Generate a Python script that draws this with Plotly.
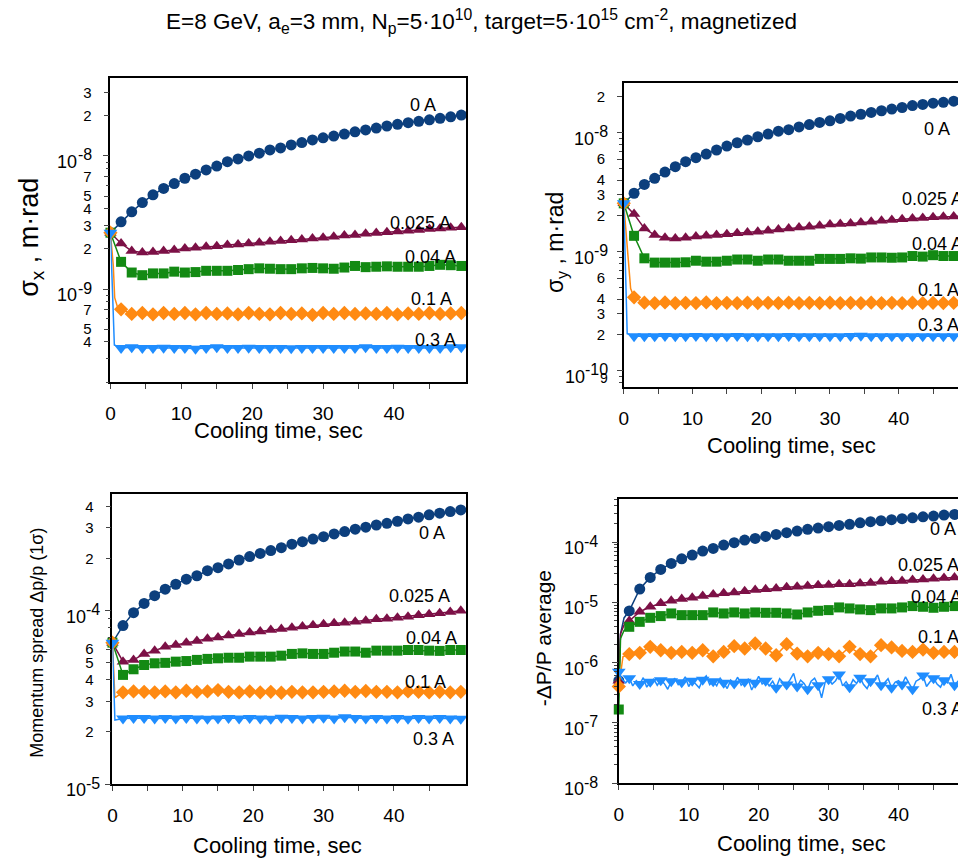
import plotly.graph_objects as go

W, H = 958, 859

# ---------------- data ----------------
T = [0, 1.5, 3, 4.5, 6, 7.5, 9, 10.5, 12, 13.5, 15, 16.5, 18, 19.5, 21, 22.5, 24,
     25.5, 27, 28.5, 30, 31.5, 33, 34.5, 36, 37.5, 39, 40.5, 42, 43.5, 45, 46.5, 48, 49.5]

CURRENTS = ['0 A', '0.025 A', '0.04 A', '0.1 A', '0.3 A']
COLORS = ['#0c3f7d', '#7c1046', '#138a13', '#ff8a12', '#1f8dff']
SYMBOLS = ['circle', 'triangle-up', 'square', 'diamond', 'triangle-down']
MSIZES = [11, 11, 10, 11, 12]

# Panel 1: sigma_x
sx_0A = [2.65e-9, 3.2e-9, 3.8e-9, 4.46e-9, 5.1e-9, 5.7e-9, 6.2e-9, 6.8e-9, 7.3e-9, 7.85e-9, 8.4e-9,
         9.06e-9, 9.5e-9, 1.0e-8, 1.05e-8, 1.11e-8, 1.15e-8, 1.21e-8, 1.26e-8, 1.32e-8, 1.37e-8,
         1.41e-8, 1.46e-8, 1.52e-8, 1.57e-8, 1.62e-8, 1.68e-8, 1.73e-8, 1.78e-8, 1.82e-8, 1.87e-8,
         1.92e-8, 1.97e-8, 2.03e-8]
sx_025A = [2.65e-9, 2.2e-9, 1.93e-9, 1.88e-9, 1.9e-9, 1.93e-9, 1.96e-9, 2.02e-9, 2.04e-9, 2.08e-9,
           2.1e-9, 2.14e-9, 2.16e-9, 2.2e-9, 2.23e-9, 2.27e-9, 2.3e-9, 2.33e-9, 2.36e-9, 2.4e-9,
           2.43e-9, 2.47e-9, 2.52e-9, 2.55e-9, 2.6e-9, 2.64e-9, 2.67e-9, 2.7e-9, 2.74e-9, 2.78e-9,
           2.82e-9, 2.85e-9, 2.89e-9, 2.91e-9]
sx_04A = [2.65e-9, 1.6e-9, 1.33e-9, 1.27e-9, 1.31e-9, 1.31e-9, 1.35e-9, 1.33e-9, 1.34e-9, 1.37e-9,
          1.37e-9, 1.37e-9, 1.39e-9, 1.41e-9, 1.43e-9, 1.42e-9, 1.41e-9, 1.41e-9, 1.43e-9, 1.44e-9,
          1.43e-9, 1.42e-9, 1.45e-9, 1.49e-9, 1.46e-9, 1.47e-9, 1.48e-9, 1.47e-9, 1.47e-9, 1.47e-9,
          1.49e-9, 1.52e-9, 1.51e-9, 1.49e-9]
sx_01A = [2.65e-9, 7.04e-10, 6.5e-10, 6.6e-10, 6.45e-10, 6.6e-10, 6.5e-10, 6.6e-10, 6.45e-10, 6.6e-10,
          6.5e-10, 6.55e-10, 6.45e-10, 6.6e-10, 6.5e-10, 6.45e-10, 6.6e-10, 6.5e-10, 6.55e-10, 6.4e-10,
          6.6e-10, 6.5e-10, 6.6e-10, 6.5e-10, 6.55e-10, 6.5e-10, 6.6e-10, 6.45e-10, 6.55e-10, 6.5e-10,
          6.6e-10, 6.5e-10, 6.55e-10, 6.6e-10]
sx_03A = [2.65e-9, 3.6e-10, 3.65e-10, 3.6e-10, 3.6e-10, 3.62e-10, 3.6e-10, 3.6e-10, 3.55e-10, 3.6e-10,
          3.65e-10, 3.6e-10, 3.6e-10, 3.62e-10, 3.6e-10, 3.6e-10, 3.6e-10, 3.58e-10, 3.6e-10, 3.6e-10,
          3.6e-10, 3.6e-10, 3.6e-10, 3.6e-10, 3.65e-10, 3.6e-10, 3.6e-10, 3.62e-10, 3.6e-10, 3.6e-10,
          3.6e-10, 3.6e-10, 3.65e-10, 3.65e-10]
sx_early_t = {'0.1 A': [0.4, 0.6, 1.0], '0.3 A': [0.55]}
sx_early_v = {'0.1 A': [1.5e-9, 8.6e-10, 7.3e-10], '0.3 A': [3.8e-10]}

# Panel 2: sigma_y
sy_0A = [2.55e-9, 3.1e-9, 3.68e-9, 4.14e-9, 4.67e-9, 5.18e-9, 5.71e-9, 6.17e-9, 6.62e-9, 7.16e-9,
         7.73e-9, 8.24e-9, 8.69e-9, 9.25e-9, 9.75e-9, 1.03e-8, 1.06e-8, 1.12e-8, 1.17e-8, 1.22e-8,
         1.26e-8, 1.32e-8, 1.38e-8, 1.43e-8, 1.48e-8, 1.53e-8, 1.58e-8, 1.63e-8, 1.69e-8, 1.73e-8,
         1.77e-8, 1.8e-8, 1.84e-8, 1.88e-8]
sy_025A = [2.55e-9, 2.07e-9, 1.57e-9, 1.38e-9, 1.31e-9, 1.29e-9, 1.31e-9, 1.34e-9, 1.36e-9, 1.38e-9,
           1.4e-9, 1.43e-9, 1.45e-9, 1.47e-9, 1.5e-9, 1.54e-9, 1.57e-9, 1.6e-9, 1.62e-9, 1.65e-9,
           1.69e-9, 1.71e-9, 1.73e-9, 1.76e-9, 1.79e-9, 1.82e-9, 1.85e-9, 1.87e-9, 1.9e-9, 1.92e-9,
           1.95e-9, 1.97e-9, 1.98e-9, 2.0e-9]
sy_04A = [2.55e-9, 1.36e-9, 8.8e-10, 8.1e-10, 8.1e-10, 8.1e-10, 8.15e-10, 8.4e-10, 8.25e-10, 8.25e-10,
          8.4e-10, 8.6e-10, 8.6e-10, 8.4e-10, 8.6e-10, 8.6e-10, 8.4e-10, 8.4e-10, 8.4e-10, 8.7e-10,
          8.7e-10, 8.7e-10, 8.8e-10, 8.75e-10, 8.95e-10, 8.95e-10, 8.9e-10, 8.95e-10, 9.2e-10, 9.1e-10,
          9.35e-10, 9.2e-10, 9.2e-10, 9.2e-10]
sy_01A = [2.55e-9, 4.14e-10, 3.73e-10, 3.7e-10, 3.75e-10, 3.7e-10, 3.72e-10, 3.7e-10, 3.75e-10, 3.7e-10,
          3.72e-10, 3.7e-10, 3.73e-10, 3.7e-10, 3.72e-10, 3.7e-10, 3.73e-10, 3.7e-10, 3.72e-10, 3.7e-10,
          3.73e-10, 3.7e-10, 3.72e-10, 3.7e-10, 3.73e-10, 3.7e-10, 3.72e-10, 3.7e-10, 3.73e-10, 3.7e-10,
          3.72e-10, 3.7e-10, 3.72e-10, 3.7e-10]
sy_03A = [2.55e-9, 1.95e-10, 1.95e-10, 1.95e-10, 1.96e-10, 1.95e-10, 1.95e-10, 1.96e-10, 1.95e-10, 1.95e-10,
          1.95e-10, 1.96e-10, 1.95e-10, 1.95e-10, 1.95e-10, 1.95e-10, 1.96e-10, 1.95e-10, 1.95e-10, 1.95e-10,
          1.95e-10, 1.95e-10, 1.96e-10, 1.97e-10, 1.95e-10, 1.95e-10, 1.95e-10, 1.95e-10, 1.95e-10, 1.95e-10,
          1.95e-10, 1.95e-10, 1.95e-10, 1.95e-10]
sy_early_t = {'0.1 A': [0.4, 0.75, 1.0], '0.3 A': [0.5]}
sy_early_v = {'0.1 A': [1.3e-9, 6.5e-10, 4.9e-10], '0.3 A': [2.05e-10]}

# Panel 3: momentum spread
dp_0A = [6.54e-5, 8.2e-5, 9.74e-5, 1.1e-4, 1.22e-4, 1.33e-4, 1.42e-4, 1.52e-4, 1.59e-4, 1.7e-4,
         1.77e-4, 1.86e-4, 1.96e-4, 2.05e-4, 2.14e-4, 2.22e-4, 2.31e-4, 2.42e-4, 2.5e-4, 2.59e-4,
         2.67e-4, 2.77e-4, 2.86e-4, 2.95e-4, 3.03e-4, 3.12e-4, 3.19e-4, 3.28e-4, 3.38e-4, 3.46e-4,
         3.57e-4, 3.65e-4, 3.73e-4, 3.81e-4]
dp_025A = [6.54e-5, 5.08e-5, 5.2e-5, 5.63e-5, 5.88e-5, 6.2e-5, 6.34e-5, 6.54e-5, 6.68e-5, 6.89e-5,
           7.01e-5, 7.2e-5, 7.34e-5, 7.47e-5, 7.57e-5, 7.74e-5, 7.84e-5, 7.98e-5, 8.09e-5, 8.24e-5,
           8.34e-5, 8.45e-5, 8.53e-5, 8.64e-5, 8.76e-5, 8.92e-5, 8.99e-5, 9.11e-5, 9.23e-5, 9.4e-5,
           9.52e-5, 9.65e-5, 9.82e-5, 1.0e-4]
dp_04A = [6.54e-5, 4.26e-5, 4.59e-5, 4.86e-5, 4.97e-5, 5.0e-5, 5.08e-5, 5.12e-5, 5.2e-5, 5.27e-5,
          5.31e-5, 5.35e-5, 5.35e-5, 5.43e-5, 5.43e-5, 5.43e-5, 5.5e-5, 5.63e-5, 5.67e-5, 5.63e-5,
          5.63e-5, 5.72e-5, 5.81e-5, 5.81e-5, 5.72e-5, 5.88e-5, 5.88e-5, 5.88e-5, 5.93e-5, 5.93e-5,
          5.88e-5, 5.86e-5, 5.93e-5, 5.93e-5]
dp_01A = [6.54e-5, 3.38e-5, 3.42e-5, 3.4e-5, 3.38e-5, 3.42e-5, 3.38e-5, 3.45e-5, 3.4e-5, 3.42e-5,
          3.48e-5, 3.4e-5, 3.38e-5, 3.42e-5, 3.38e-5, 3.4e-5, 3.36e-5, 3.4e-5, 3.38e-5, 3.38e-5,
          3.4e-5, 3.42e-5, 3.45e-5, 3.4e-5, 3.44e-5, 3.4e-5, 3.4e-5, 3.38e-5, 3.42e-5, 3.4e-5,
          3.38e-5, 3.4e-5, 3.38e-5, 3.4e-5]
dp_03A = [6.54e-5, 2.39e-5, 2.4e-5, 2.4e-5, 2.39e-5, 2.4e-5, 2.39e-5, 2.4e-5, 2.39e-5, 2.38e-5,
          2.39e-5, 2.4e-5, 2.39e-5, 2.4e-5, 2.39e-5, 2.38e-5, 2.41e-5, 2.4e-5, 2.39e-5, 2.4e-5,
          2.41e-5, 2.39e-5, 2.43e-5, 2.4e-5, 2.39e-5, 2.4e-5, 2.39e-5, 2.4e-5, 2.38e-5, 2.4e-5,
          2.39e-5, 2.4e-5, 2.39e-5, 2.38e-5]
dp_early_t = {'0.1 A': [0.35], '0.3 A': [0.35]}
dp_early_v = {'0.1 A': [3.15e-5], '0.3 A': [2.34e-5]}

# Panel 4: -dP/P average
dP_0A = [5e-7, 7.2e-6, 1.66e-5, 2.59e-5, 3.52e-5, 4.42e-5, 5.28e-5, 6.08e-5, 7.08e-5, 7.85e-5,
         8.9e-5, 9.75e-5, 1.08e-4, 1.15e-4, 1.24e-4, 1.34e-4, 1.43e-4, 1.52e-4, 1.63e-4, 1.71e-4,
         1.8e-4, 1.89e-4, 1.97e-4, 2.09e-4, 2.18e-4, 2.26e-4, 2.35e-4, 2.44e-4, 2.53e-4, 2.63e-4,
         2.7e-4, 2.81e-4, 2.88e-4, 2.99e-4]
dP_025A = [5e-7, 4.9e-6, 6.97e-6, 8.44e-6, 9.6e-6, 1.06e-5, 1.13e-5, 1.19e-5, 1.27e-5, 1.35e-5,
           1.41e-5, 1.46e-5, 1.53e-5, 1.6e-5, 1.64e-5, 1.7e-5, 1.77e-5, 1.81e-5, 1.86e-5, 1.91e-5,
           1.93e-5, 2.0e-5, 2.0e-5, 2.06e-5, 2.1e-5, 2.19e-5, 2.24e-5, 2.26e-5, 2.34e-5, 2.4e-5,
           2.46e-5, 2.52e-5, 2.59e-5, 2.64e-5]
dP_04A = [1.66e-7, 3.92e-6, 4.74e-6, 5.53e-6, 5.9e-6, 6.53e-6, 6.12e-6, 6.12e-6, 6.12e-6, 6.79e-6,
          6.53e-6, 6.79e-6, 6.53e-6, 6.79e-6, 6.7e-6, 6.7e-6, 6.53e-6, 6.28e-6, 6.79e-6, 7.23e-6,
          7.42e-6, 8.22e-6, 7.91e-6, 7.61e-6, 7.42e-6, 7.91e-6, 7.91e-6, 8.22e-6, 8.65e-6, 8.43e-6,
          8.11e-6, 8.43e-6, 8.65e-6, 8.5e-6]
dP_01A = [4e-7, 1.38e-6, 1.45e-6, 1.82e-6, 1.6e-6, 1.45e-6, 1.5e-6, 1.45e-6, 1.6e-6, 1.27e-6,
          1.5e-6, 1.87e-6, 1.71e-6, 2.07e-6, 1.71e-6, 1.32e-6, 2.02e-6, 1.41e-6, 1.27e-6, 1.45e-6,
          1.38e-6, 1.27e-6, 1.82e-6, 1.38e-6, 1.27e-6, 1.94e-6, 1.78e-6, 1.56e-6, 1.5e-6, 1.64e-6,
          1.45e-6, 1.5e-6, 1.5e-6, 1.52e-6]
# 0.3 A sampled every 0.5 s (noisy)
dP_03A_dense = [7.0e-7, 5.2e-7, 4.6e-7, 5.5e-7, 4.1e-7, 5.0e-7, 4.4e-7, 5.6e-7, 3.9e-7, 4.8e-7,
                5.3e-7, 4.2e-7, 5.1e-7, 4.5e-7, 3.6e-7, 4.9e-7, 5.4e-7, 4.3e-7, 4.7e-7, 5.8e-7,
                4.0e-7, 5.0e-7, 4.4e-7, 3.8e-7, 5.2e-7, 6.0e-7, 4.3e-7, 4.9e-7, 4.1e-7, 5.5e-7,
                4.6e-7, 3.7e-7, 5.1e-7, 4.5e-7, 5.7e-7, 4.2e-7, 4.8e-7, 5.3e-7, 3.5e-7, 4.6e-7,
                5.9e-7, 4.4e-7, 5.0e-7, 4.1e-7, 4.9e-7, 3.8e-7, 5.4e-7, 4.6e-7, 4.3e-7, 5.2e-7,
                6.6e-7, 4.0e-7, 5.1e-7, 4.5e-7, 3.6e-7, 4.9e-7, 5.5e-7, 4.2e-7, 2.6e-7, 4.7e-7,
                5.3e-7, 4.4e-7, 5.0e-7, 6.3e-7, 4.1e-7, 4.8e-7, 3.9e-7, 5.2e-7, 4.5e-7, 5.6e-7,
                4.3e-7, 3.7e-7, 4.9e-7, 5.1e-7, 6.2e-7, 4.2e-7, 4.6e-7, 5.4e-7, 3.8e-7, 4.7e-7,
                5.0e-7, 4.3e-7, 5.8e-7, 4.5e-7, 3.6e-7, 4.9e-7, 5.3e-7, 6.1e-7, 4.0e-7, 4.8e-7,
                5.5e-7, 4.4e-7, 3.9e-7, 5.1e-7, 4.6e-7, 6.4e-7, 4.2e-7, 4.9e-7, 4.5e-7, 4.7e-7]
DENSE_STEP = 0.5
dP_early_t = {'0 A': [0.25, 0.75], '0.025 A': [0.25, 0.75], '0.04 A': [0.25, 0.75], '0.1 A': [0.6]}
dP_early_v = {'0 A': [3.0e-6, 5.5e-6], '0.025 A': [3.0e-6, 4.2e-6], '0.04 A': [2.5e-6, 3.4e-6],
              '0.1 A': [1.25e-6]}

# y tick labels (plain digits) and decade exponents per panel
P1_TV = [3e-8, 2e-8, 7e-9, 5e-9, 4e-9, 3e-9, 2e-9, 7e-10, 5e-10, 4e-10]
P1_DEC = [-8, -9]
P2_TV = [2e-8, 6e-9, 4e-9, 3e-9, 2e-9, 6e-10, 4e-10, 3e-10, 2e-10]
P2_DEC = [-8, -9, -10]
P3_TV = [4e-4, 3e-4, 2e-4, 6e-5, 5e-5, 4e-5, 3e-5, 2e-5]
P3_DEC = [-4, -5]
P4_TV = []
P4_DEC = [-4, -5, -6, -7, -8]

# ---------------- helpers ----------------
def fx(x):
    return x / W


def fy(y):
    return 1 - y / H


FONT = 'Liberation Sans, Arial, sans-serif'
fig = go.Figure()


def add_series(panel, name, t, v, early_t, early_v, i):
    pts = list(zip(t, v))
    if name in early_t:
        pts += list(zip(early_t[name], early_v[name]))
    pts.sort(key=lambda p: p[0])
    xa, ya = f'x{panel}', f'y{panel}'
    fig.add_trace(go.Scatter(x=[p[0] for p in pts], y=[p[1] for p in pts], mode='lines',
                             line=dict(color=COLORS[i], width=1.5), xaxis=xa, yaxis=ya,
                             hoverinfo='skip', showlegend=False))
    fig.add_trace(go.Scatter(x=t, y=v, mode='markers', cliponaxis=False,
                             marker=dict(symbol=SYMBOLS[i], size=MSIZES[i], color=COLORS[i],
                                         line=dict(width=0)),
                             xaxis=xa, yaxis=ya, name=name, showlegend=False))


panels = [
    (1, [sx_0A, sx_025A, sx_04A, sx_01A, sx_03A], sx_early_t, sx_early_v),
    (2, [sy_0A, sy_025A, sy_04A, sy_01A, sy_03A], sy_early_t, sy_early_v),
    (3, [dp_0A, dp_025A, dp_04A, dp_01A, dp_03A], dp_early_t, dp_early_v),
]
for p, series, et, ev in panels:
    for i, name in enumerate(CURRENTS):
        add_series(p, name, T, series[i], et, ev, i)

for i, name in enumerate(CURRENTS[:4]):
    add_series(4, name, T, [dP_0A, dP_025A, dP_04A, dP_01A][i], dP_early_t, dP_early_v, i)
t_dense = [k * DENSE_STEP for k in range(len(dP_03A_dense))]
fig.add_trace(go.Scatter(x=t_dense, y=dP_03A_dense, mode='lines', line=dict(color=COLORS[4], width=1.5),
                         xaxis='x4', yaxis='y4', hoverinfo='skip', showlegend=False))
fig.add_trace(go.Scatter(x=t_dense[::3], y=dP_03A_dense[::3], mode='markers', cliponaxis=False,
                         marker=dict(symbol=SYMBOLS[4], size=MSIZES[4], color=COLORS[4], line=dict(width=0)),
                         xaxis='x4', yaxis='y4', showlegend=False))

# ---------------- axes ----------------
XT = [0, 10, 20, 30, 40]
XMINOR = [5, 15, 25, 35, 45]


def xaxis(dom, rng, anchor):
    return dict(domain=[fx(dom[0]), fx(dom[1])], range=rng, anchor=anchor, tickmode='array',
                tickvals=XT, ticktext=[str(v) for v in XT], ticks='outside', ticklen=5, tickwidth=1.2,
                minor=dict(tickmode='array', tickvals=XMINOR, ticks='outside', ticklen=5, tickwidth=1.2,
                           showgrid=False),
                showline=True, linecolor='black', linewidth=1.5, mirror=True, showgrid=False,
                zeroline=False, tickfont=dict(family=FONT, size=19, color='black'),
                ticklabelstandoff=8)


def digit_label(v):
    return f'{v:.0e}'[0]


def yaxis(dom, rng, anchor, tv, minor, mirror):
    return dict(domain=[fy(dom[1]), fy(dom[0])], type='log', range=rng, anchor=anchor,
                tickmode='array', tickvals=tv, ticktext=[digit_label(v) for v in tv],
                ticks='outside', ticklen=5, tickwidth=1.2,
                minor=dict(tickmode='array', tickvals=minor, ticks='outside', ticklen=3, tickwidth=1,
                           showgrid=False),
                showline=True, linecolor='black', linewidth=1.5, mirror=mirror, showgrid=False,
                zeroline=False, tickfont=dict(family=FONT, size=15, color='black'),
                ticklabelstandoff=9)


def yaxis_dec(over, rng, anchor, decs):
    # decade tick marks only; their labels are drawn as annotations below
    return dict(overlaying=over, anchor=anchor, side='left', type='log', range=rng,
                tickmode='array', tickvals=[10.0 ** d for d in decs], showticklabels=False,
                ticks='outside', ticklen=6, tickwidth=1.2, showline=False, showgrid=False,
                zeroline=False)


def minors(lo, hi):
    out = []
    for e in range(lo, hi + 1):
        for m in range(2, 10):
            out.append(m * 10.0 ** e)
    return out


R1 = [-9.699, -7.414]
R2 = [-10.137, -7.582]
R3 = [-5, -3.327]
R4 = [-8, -3.285]

layout = dict(
    width=W, height=H, margin=dict(l=0, r=0, t=0, b=0), paper_bgcolor='white', plot_bgcolor='white',
    showlegend=False, hovermode=False, font=dict(family=FONT, color='black'),
    xaxis=xaxis((106, 463), [0, 50.1], 'y'),
    yaxis=yaxis((78, 382), R1, 'x', P1_TV, minors(-10, -8), True),
    xaxis2=xaxis((622, 958), [0, 48.63], 'y2'),
    yaxis2=yaxis((83, 387), R2, 'x2', P2_TV, minors(-11, -8), False),
    xaxis3=xaxis((108, 463), [0, 50.18], 'y3'),
    yaxis3=yaxis((494, 784), R3, 'x3', P3_TV, minors(-5, -4), True),
    xaxis4=xaxis((617, 958), [0, 48.5], 'y4'),
    yaxis4=yaxis((499, 783), R4, 'x4', P4_TV, minors(-8, -4), False),
    yaxis5=yaxis_dec('y', R1, 'x', P1_DEC),
    yaxis6=yaxis_dec('y2', R2, 'x2', P2_DEC),
    yaxis7=yaxis_dec('y3', R3, 'x3', P3_DEC),
    yaxis8=yaxis_dec('y4', R4, 'x4', P4_DEC),
)
fig.update_layout(**layout)

for k, (xa, decs) in enumerate([('x', P1_DEC), ('x2', P2_DEC), ('x3', P3_DEC), ('x4', P4_DEC)]):
    fig.add_trace(go.Scatter(x=[1], y=[10.0 ** decs[0]], xaxis=xa, yaxis=f'y{k + 5}', mode='markers',
                             marker=dict(opacity=0, size=1), hoverinfo='skip', showlegend=False))

ann = []


def text(x, y, s, size, anchor='left', angle=0):
    ann.append(dict(x=fx(x), y=fy(y), xref='paper', yref='paper', text=s, showarrow=False,
                    xanchor=anchor, yanchor='middle', textangle=angle, borderpad=0,
                    font=dict(family=FONT, size=size, color='black')))


# decade labels "10^n": base and exponent as separate texts
BASE_SIZE, EXP_SIZE = 18, 16
for yref, decs, right in [('y', P1_DEC, 88), ('y2', P2_DEC, 607), ('y3', P3_DEC, 97), ('y4', P4_DEC, 597)]:
    for d in decs:
        es = str(d)
        ew = EXP_SIZE * (0.333 + 0.556 * (len(es) - 1))
        ann.append(dict(x=fx(right), y=d, xref='paper', yref=yref, text=es, showarrow=False,
                        xanchor='right', yanchor='middle', yshift=1, borderpad=0,
                        font=dict(family=FONT, size=EXP_SIZE, color='black')))
        ann.append(dict(x=fx(right - ew), y=d, xref='paper', yref=yref, text='10', showarrow=False,
                        xanchor='right', yanchor='middle', yshift=-6, borderpad=0,
                        font=dict(family=FONT, size=BASE_SIZE, color='black')))

# series labels
LABEL_POS = {
    1: [(406, 105), (386, 223), (401, 257), (407, 299), (411, 340)],
    2: [(923, 129), (901, 199), (911, 244), (917, 290), (917, 325)],
    3: [(415, 533), (385, 596), (402, 638), (401, 682), (409, 739)],
    4: [(929, 529), (897, 565), (910, 597), (917, 637), (921, 709)],
}
for p, pos in LABEL_POS.items():
    for name, (x, y) in zip(CURRENTS, pos):
        text(x, y, name, 18)

# axis titles
for cx, cy in [(275, 430), (791, 446), (274, 845), (801, 843)]:
    text(cx, cy, 'Cooling time, sec', 22, 'center')
text(26, 237, 'σ<sub>x</sub> , m·rad', 27, 'center', -90)
text(554, 243, 'σ<sub>y</sub> , m·rad', 23, 'center', -90)
text(32, 643, 'Momentum spread Δp/p (1σ)', 18, 'center', -90)
text(541, 638, '-ΔP/P average', 21, 'center', -90)
text(602, 378, '9', 14, 'center')

# title
text(479, 22, 'E=8 GeV, a<sub>e</sub>=3 mm, N<sub>p</sub>=5·10<sup>10</sup>, '
              'target=5·10<sup>15</sup> cm<sup>-2</sup>, magnetized', 22.5, 'center')

fig.update_layout(annotations=ann)
fig.write_html('out.html')
